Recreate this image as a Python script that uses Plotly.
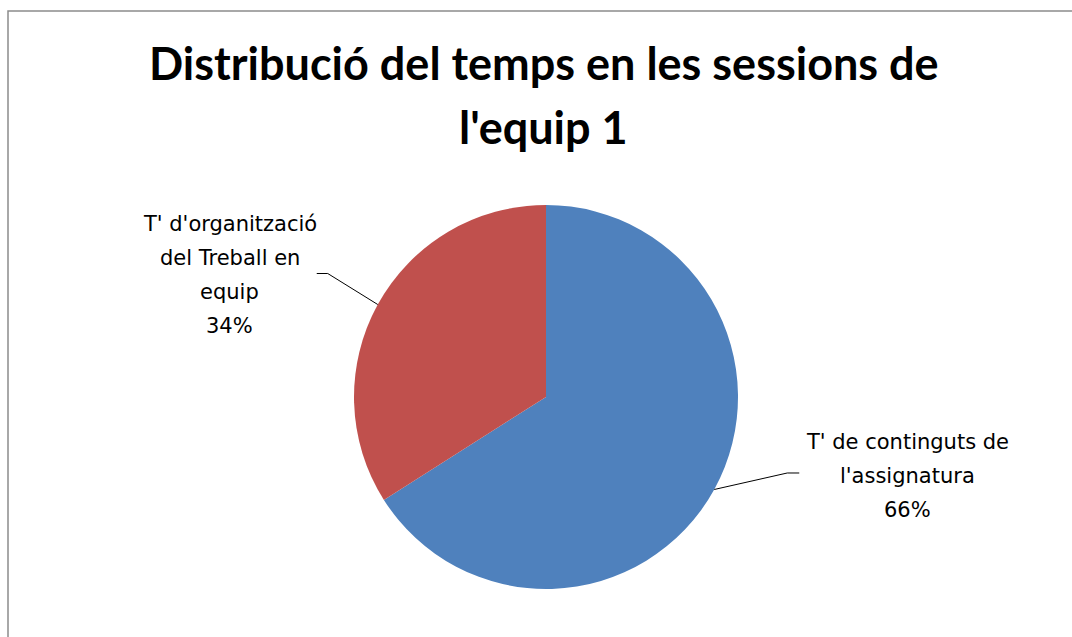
import math
import plotly.graph_objects as go

# ---- data ----
title_lines = ["Distribució del temps en les sessions de", "l'equip 1"]
categories = ["T' de continguts de l'assignatura", "T' d'organització del Treball en equip"]
label_lines = [["T' de continguts de", "l'assignatura"],
               ["T' d'organització", "del Treball en", "equip"]]
values = [66, 34]
colors = ["#4F81BD", "#C0504D"]

# ---- geometry (pixels) ----
W, H = 1072, 637
cx, cy, R = 546, 397, 192
label_offset = [(193, -13.5), (-148, -29.5)]      # block centre relative to edge point
elbow_offset = [(73, -16.5), (-50, -31)]
elbow_tail = [12, -11]
line_h = 34
TITLE_FONT = "Lato"
LABEL_FONT = "DejaVu Sans"

fig = go.Figure()
fig.add_trace(go.Pie(
    labels=categories, values=values, sort=False, direction="clockwise", rotation=0,
    marker=dict(colors=colors, line=dict(width=0)),
    textinfo="none", hoverinfo="label+percent", showlegend=False,
    domain=dict(x=[(cx - R) / W, (cx + R) / W], y=[(H - cy - R) / H, (H - cy + R) / H]),
))

def px(x):
    return x / W

def py(y):
    return 1 - y / H

total = sum(values)
start = 0.0
shapes = []
annotations = []
for i, v in enumerate(values):
    f = v / total
    mid = (start + f / 2) * 2 * math.pi
    start += f
    ex, ey = cx + R * math.sin(mid), cy - R * math.cos(mid)
    bx, by = ex + elbow_offset[i][0], ey + elbow_offset[i][1]
    tx = bx + elbow_tail[i]
    shapes.append(dict(type="line", xref="paper", yref="paper", x0=px(ex), y0=py(ey),
                       x1=px(bx), y1=py(by), line=dict(color="#000000", width=1)))
    shapes.append(dict(type="line", xref="paper", yref="paper", x0=px(bx), y0=py(by),
                       x1=px(tx), y1=py(by), line=dict(color="#000000", width=1)))
    lines = label_lines[i] + [f"{round(f * 100)}%"]
    lcx, lcy = ex + label_offset[i][0], ey + label_offset[i][1]
    n = len(lines)
    for k, t in enumerate(lines):
        yy = lcy + (k - (n - 1) / 2) * line_h
        annotations.append(dict(text=t, xref="paper", yref="paper", x=px(lcx), y=py(yy),
                                xanchor="center", yanchor="middle", showarrow=False,
                                font=dict(family=LABEL_FONT, size=21, color="#000000")))

title_y = [63, 127]
for t, yy in zip(title_lines, title_y):
    annotations.append(dict(text=f"<b>{t}</b>", xref="paper", yref="paper", x=px(543.5), y=py(yy),
                            xanchor="center", yanchor="middle", showarrow=False,
                            font=dict(family=TITLE_FONT, size=45, color="#000000")))

# chart border (top and left visible)
shapes.append(dict(type="rect", xref="paper", yref="paper", x0=px(8), y0=-0.02, x1=1.02, y1=py(11),
                   line=dict(color="#8C8C8C", width=1.5), fillcolor="rgba(0,0,0,0)"))

fig.update_layout(width=W, height=H, margin=dict(l=0, r=0, t=0, b=0),
                  paper_bgcolor="white", plot_bgcolor="white",
                  shapes=shapes, annotations=annotations)
fig.write_html("out.html", config={"displayModeBar": False},
               post_script="document.body.style.margin='0px';")
